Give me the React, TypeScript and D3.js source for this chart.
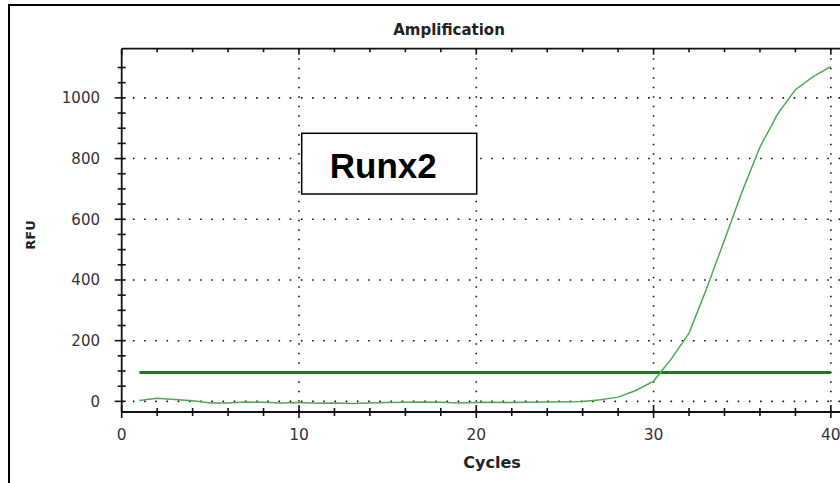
import * as d3 from 'd3'

const cycles = [1, 2, 3, 4, 5, 6, 7, 8, 9, 10, 11, 12, 13, 14, 15, 16, 17, 18, 19, 20,
  21, 22, 23, 24, 25, 26, 27, 28, 29, 30, 31, 32, 33, 34, 35, 36, 37, 38, 39, 40]
const rfu = [3, 10, 6, 2, -5, -5, -2, -3, -5, -4, -6, -5, -7, -5, -4, -3, -2, -3, -5, -4,
  -3, -4, -3, -2, -1, 0, 5, 14, 36, 67, 140, 225, 373, 532, 692, 838, 947, 1027, 1070, 1103]
const threshold = 95
const xLabels = [0, 10, 20, 30, 40]
const yLabels = [0, 200, 400, 600, 800, 1000]
const title = 'Amplification'
const geneName = 'Runx2'

const W = 840
const H = 483
const FONT = '"DejaVu Sans", Verdana, sans-serif'

export default function App() {
  const x = d3.scaleLinear().domain([0, 41]).range([121.7, 848.6])
  const y = d3.scaleLinear().domain([-35, 1162]).range([412, 48.7])
  const left = x(0)
  const right = x(41)
  const top = y(1162)
  const bottom = y(-35)

  const xMinor = d3.range(0, 41, 2)
  const yMinor = d3.range(0, 1101, 50)

  const line = d3.line<number>()
    .x((_, i) => x(cycles[i]))
    .y((d) => y(d))

  return (
    <svg width={W} height={H} viewBox={`0 0 ${W} ${H}`}
      style={{ position: 'absolute', left: 0, top: 0, background: '#fff' }}>
      {/* outer frame */}
      <line x1={8} x2={W} y1={5} y2={5} stroke="#000" strokeWidth={2} />
      <line x1={9} x2={9} y1={5} y2={H} stroke="#000" strokeWidth={2} />

      <text x={449} y={35} textAnchor="middle" fontFamily={FONT} fontWeight="bold"
        fontSize={15} fill="#222">{title}</text>

      {/* grid */}
      {yLabels.map((v) => (
        <line key={'gy' + v} x1={left} x2={right} y1={y(v)} y2={y(v)}
          stroke="#111" strokeWidth={1.6} strokeDasharray="1.6,9.6" />
      ))}
      {xLabels.filter((v) => v > 0).map((v) => (
        <line key={'gx' + v} x1={x(v)} x2={x(v)} y1={top} y2={bottom}
          stroke="#111" strokeWidth={1.6} strokeDasharray="1.6,7.9" />
      ))}

      {/* axes */}
      <line x1={left} x2={right} y1={top} y2={top} stroke="#111" strokeWidth={1.8} />
      <line x1={left} x2={right} y1={bottom} y2={bottom} stroke="#111" strokeWidth={1.8} />
      <line x1={left} x2={left} y1={top} y2={bottom} stroke="#111" strokeWidth={1.8} />

      {xMinor.map((v) => {
        const major = v % 10 === 0
        return (
          <g key={'tx' + v}>
            <line x1={x(v)} x2={x(v)} y1={bottom - (major ? 7 : 4)} y2={bottom + (major ? 6 : 4)}
              stroke="#111" strokeWidth={1.6} />
            <line x1={x(v)} x2={x(v)} y1={top} y2={top + (major ? 6 : 3.5)}
              stroke="#111" strokeWidth={1.6} />
          </g>
        )
      })}
      {yMinor.map((v) => {
        const major = v % 200 === 0
        return (
          <line key={'ty' + v} x1={left - (major ? 7 : 4)} x2={left + 4} y1={y(v)} y2={y(v)}
            stroke="#111" strokeWidth={1.6} />
        )
      })}

      {xLabels.map((v) => (
        <text key={'lx' + v} x={x(v)} y={440} textAnchor="middle" fontFamily={FONT}
          fontSize={15.5} fill="#333">{v}</text>
      ))}
      {yLabels.map((v) => (
        <text key={'ly' + v} x={100} y={y(v)} dy="0.36em" textAnchor="end" fontFamily={FONT}
          fontSize={15} fill="#333">{v}</text>
      ))}

      <text x={492} y={468} textAnchor="middle" fontFamily={FONT} fontWeight="bold"
        fontSize={16} fill="#222">Cycles</text>
      <text transform="translate(35,235) rotate(-90)" textAnchor="middle" fontFamily={FONT}
        fontWeight="bold" fontSize={13} fill="#222">RFU</text>

      {/* threshold */}
      <line x1={x(1)} x2={x(40)} y1={y(threshold)} y2={y(threshold)}
        stroke="#1f7a1f" strokeWidth={3} />

      {/* amplification curve */}
      <path d={line(rfu) ?? ''} fill="none" stroke="#4fa84f" strokeWidth={1.5} />

      {/* label box */}
      <rect x={301.7} y={133.3} width={175} height={60.7} fill="#fff" stroke="#000" strokeWidth={1.5} />
      <text x={383.3} y={178.3} textAnchor="middle" fontFamily='"Liberation Sans", Arial, sans-serif'
        fontWeight="bold" fontSize={35} fill="#000">{geneName}</text>
    </svg>
  )
}
